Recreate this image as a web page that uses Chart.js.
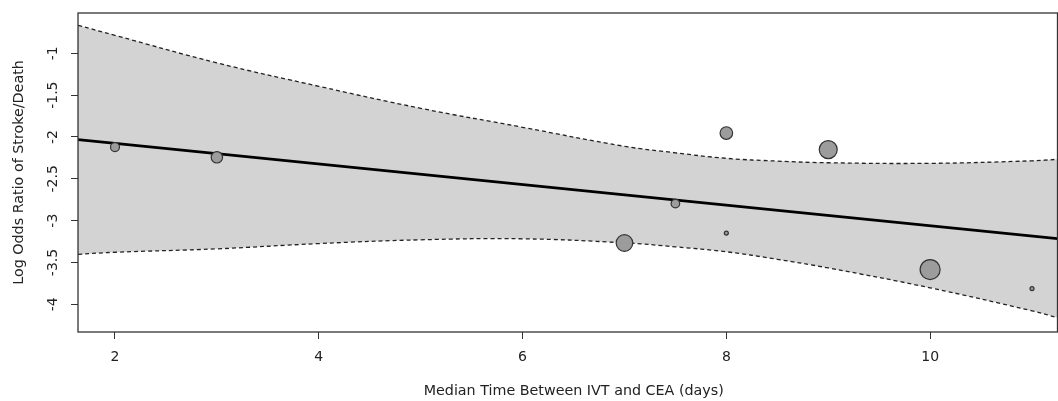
<!DOCTYPE html>
<html>
<head>
<meta charset="utf-8">
<script src="https://cdn.jsdelivr.net/npm/chart.js@4/dist/chart.umd.min.js"></script>
<style>
  body { margin: 0; background: #fff; }
  #wrap { width: 1058px; height: 401px; }
</style>
</head>
<body>
<div id="wrap"><canvas id="chart" width="1058" height="401"></canvas></div>
<script>
// Study points: median days between IVT and CEA, log odds ratio, marker radius
const studyDays = [2, 3, 7, 7.5, 8, 8, 9, 10, 11];
const studyLogOR = [-2.12, -2.243, -3.267, -2.796, -1.953, -3.148, -2.151, -3.585, -3.812];
const studyRadius = [4.5, 5.7, 8.3, 4.3, 6.3, 2, 9, 10, 2];

// Confidence band
const bandDays = [1.637, 2, 3, 4, 5, 6, 7, 7.5, 8, 8.5, 9, 10, 11, 11.25];
const bandUpper = [-0.665, -0.785, -1.114, -1.394, -1.657, -1.884, -2.111, -2.189, -2.255, -2.288, -2.308, -2.315, -2.285, -2.267];
const bandLower = [-3.402, -3.378, -3.337, -3.274, -3.229, -3.217, -3.265, -3.313, -3.372, -3.462, -3.565, -3.803, -4.078, -4.159];

// Fitted regression line at the plot edges
const fitDays = [1.637, 11.25];
const fitLogOR = [-2.031, -3.215];

const xTicks = [2, 4, 6, 8, 10];
const yTicks = [-4, -3.5, -3, -2.5, -2, -1.5, -1];

const FONT = 'DejaVu Sans';
const X_TITLE = 'Median Time Between IVT and CEA (days)';

const toXY = (xs, ys) => xs.map((x, i) => ({ x: x, y: ys[i] }));

// Box around the plotting region, like R's box(), plus the x title
// (R centres it on the full plot region, a bit right of the cropped box)
const framePlugin = {
    id: 'frame',
    afterDraw(chart) {
        const { ctx, chartArea: a } = chart;
        ctx.save();
        ctx.strokeStyle = '#333';
        ctx.lineWidth = 1.3;
        ctx.strokeRect(a.left, a.top, a.right - a.left, a.bottom - a.top);
        ctx.fillStyle = '#222';
        ctx.font = '14.3px "' + FONT + '"';
        ctx.textAlign = 'center';
        ctx.textBaseline = 'middle';
        ctx.fillText(X_TITLE, (a.left + a.right) / 2 + 6, 391.5);
        ctx.restore();
    }
};

new Chart(document.getElementById('chart').getContext('2d'), {
    type: 'scatter',
    data: {
        datasets: [
            {
                type: 'scatter',
                data: toXY(studyDays, studyLogOR),
                pointRadius: studyRadius,
                pointBackgroundColor: '#9c9c9c',
                pointBorderColor: '#333',
                pointBorderWidth: 1.2,
                showLine: false
            },
            {
                type: 'line',
                data: toXY(fitDays, fitLogOR),
                borderColor: '#000',
                borderWidth: 2.6,
                pointRadius: 0,
                fill: false
            },
            {
                type: 'line',
                data: toXY(bandDays, bandUpper),
                borderColor: '#222',
                borderWidth: 1.3,
                borderDash: [4, 3],
                pointRadius: 0,
                tension: 0.4,
                backgroundColor: '#d3d3d3',
                fill: '+1'
            },
            {
                type: 'line',
                data: toXY(bandDays, bandLower),
                borderColor: '#222',
                borderWidth: 1.3,
                borderDash: [4, 3],
                pointRadius: 0,
                tension: 0.4,
                fill: false
            }
        ]
    },
    options: {
        responsive: false,
        animation: false,
        events: [],
        layout: { autoPadding: false, padding: { top: 13, right: 0.5, left: 0, bottom: 0 } },
        plugins: {
            legend: { display: false },
            tooltip: { enabled: false },
            filler: { drawTime: 'beforeDatasetsDraw' }
        },
        scales: {
            x: {
                type: 'linear',
                min: 1.637,
                max: 11.25,
                afterBuildTicks: (scale) => { scale.ticks = xTicks.map(v => ({ value: v })); },
                afterFit: (scale) => { scale.height = 69; },
                grid: { drawOnChartArea: false, drawTicks: true, tickLength: 7, color: '#333', lineWidth: 1 },
                border: { display: false },
                ticks: {
                    color: '#222',
                    padding: 10,
                    callback: (v) => String(v),
                    font: { family: FONT, size: 14 }
                },
                title: { display: false }
            },
            y: {
                type: 'linear',
                min: -4.331,
                max: -0.518,
                afterBuildTicks: (scale) => { scale.ticks = yTicks.map(v => ({ value: v })); },
                afterFit: (scale) => { scale.width = 78; },
                grid: { drawOnChartArea: false, drawTicks: true, tickLength: 7, color: '#333', lineWidth: 1 },
                border: { display: false },
                ticks: {
                    color: '#222',
                    padding: 4,
                    minRotation: 90,
                    maxRotation: 90,
                    crossAlign: 'center',
                    callback: (v) => String(v),
                    font: { family: FONT, size: 14 }
                },
                title: {
                    display: true,
                    text: 'Log Odds Ratio of Stroke/Death',
                    color: '#222',
                    font: { family: FONT, size: 14.3 },
                    padding: { top: 10.5, bottom: 0 }
                }
            }
        }
    },
    plugins: [framePlugin]
});
</script>
</body>
</html>
